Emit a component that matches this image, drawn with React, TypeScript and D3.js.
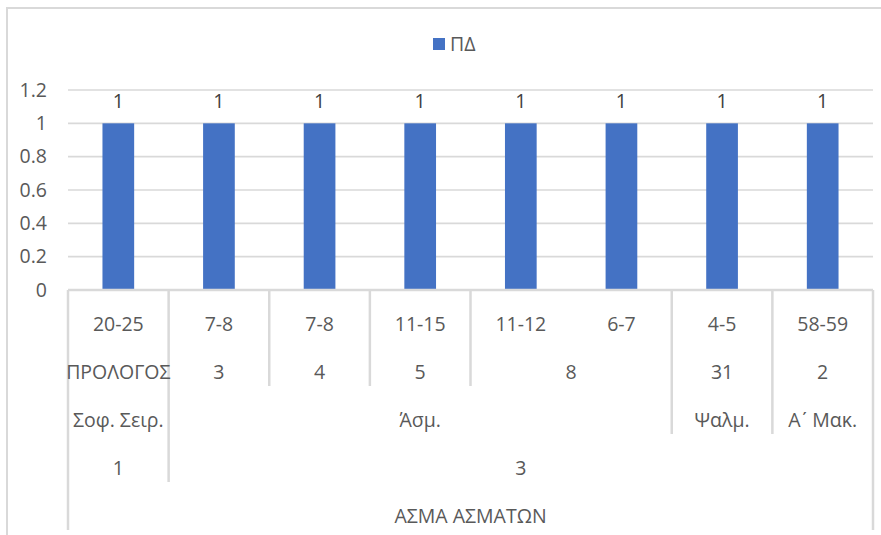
import * as d3 from 'd3';

// category levels, innermost first
const verses = ['20-25', '7-8', '7-8', '11-15', '11-12', '6-7', '4-5', '58-59'];
const chapters = ['ΠΡΟΛΟΓΟΣ', '3', '4', '5', '8', '8', '31', '2'];
const books = ['Σοφ. Σειρ.', 'Άσμ.', 'Άσμ.', 'Άσμ.', 'Άσμ.', 'Άσμ.', 'Ψαλμ.', 'Α\u0374 Μακ.'];
const parts = ['1', '3', '3', '3', '3', '3', '3', '3'];
const works = Array(8).fill('ΑΣΜΑ ΑΣΜΑΤΩΝ');
const values = [1, 1, 1, 1, 1, 1, 1, 1];
const seriesName = 'ΠΔ';
const yTicks = [0, 0.2, 0.4, 0.6, 0.8, 1, 1.2];

const levels = [verses, chapters, books, parts, works];

const W = 881;
const H = 535;
const FONT = "'Open Sans', sans-serif";
const GRID = '#d9d9d9';
const TXT = '#595959';
const BAR = '#4472c4';
const FS = 19.5;

const App = () => {
  const idx = values.map((_, i) => i);
  const x = d3.scaleBand<number>().domain(idx).range([68, 873]).padding(0);
  const y = d3.scaleLinear().domain([0, 1.2]).range([290, 90]);
  const step = x.step();
  const barW = step * 0.315;
  const rowH = 48;
  const axisY = y(0);

  // groups per level (a run where this level and all outer levels match)
  const key = (i: number, l: number) => levels.slice(l).map((lv) => lv[i]).join('|');
  const groups = levels.map((lv, l) => {
    const out: { label: string; start: number; end: number }[] = [];
    idx.forEach((i) => {
      const last = out[out.length - 1];
      if (last && key(last.start, l) === key(i, l)) last.end = i;
      else out.push({ label: lv[i], start: i, end: i });
    });
    return out;
  });

  // separator lines between categories
  const seps = d3.range(1, idx.length).map((b) => {
    let depth = -1;
    levels.forEach((lv, l) => {
      if (lv[b] !== lv[b - 1]) depth = l;
    });
    return { b, depth };
  });

  return (
    <svg
      width={W}
      height={H}
      style={{ position: 'absolute', left: 0, top: 0, background: '#fff' }}
      fontFamily={FONT}
    >
      <rect x={7} y={8} width={W + 20} height={H + 20} fill="#fff" stroke={GRID} strokeWidth={2} />

      {/* legend */}
      <rect x={433} y={38} width={12} height={12} fill={BAR} />
      <text x={450} y={44} dy="0.35em" fontSize={FS} fill={TXT}>
        {seriesName}
      </text>

      {/* gridlines */}
      {yTicks.slice(1).map((t) => (
        <line key={t} x1={68} x2={873} y1={y(t)} y2={y(t)} stroke={GRID} strokeWidth={1.6} />
      ))}
      {yTicks.map((t) => (
        <text key={t} x={47} y={y(t)} dy="0.35em" textAnchor="end" fontSize={FS} fill={TXT}>
          {t}
        </text>
      ))}

      {/* bars */}
      {values.map((v, i) => {
        const cx = (x(i) as number) + step / 2;
        return (
          <g key={i}>
            <rect x={cx - barW / 2} y={y(v)} width={barW} height={axisY - y(v)} fill={BAR} />
            <text x={cx} y={y(v) - 22} dy="0.35em" textAnchor="middle" fontSize={FS} fill="#404040">
              {v}
            </text>
          </g>
        );
      })}

      {/* category axis */}
      <line x1={68} x2={873} y1={axisY} y2={axisY} stroke={GRID} strokeWidth={2.5} />
      {[0, idx.length].map((b) => {
        const xx = b === 0 ? 68 : 873;
        return (
          <line key={b} x1={xx} x2={xx} y1={axisY} y2={axisY + rowH * levels.length} stroke={GRID} strokeWidth={2.5} />
        );
      })}
      {seps
        .filter((s) => s.depth > 0)
        .map((s) => {
          const xx = x(s.b) as number;
          return (
            <line key={s.b} x1={xx} x2={xx} y1={axisY} y2={axisY + rowH * (s.depth + 1)} stroke={GRID} strokeWidth={2.5} />
          );
        })}
      {groups.map((gs, l) =>
        gs.map((g) => {
          const cx = ((x(g.start) as number) + (x(g.end) as number) + step) / 2;
          return (
            <text
              key={`${l}-${g.start}`}
              x={cx}
              y={axisY + rowH * l + 34}
              dy="0.35em"
              textAnchor="middle"
              fontSize={FS}
              fill={TXT}
            >
              {g.label}
            </text>
          );
        }),
      )}
    </svg>
  );
};

export default App;
